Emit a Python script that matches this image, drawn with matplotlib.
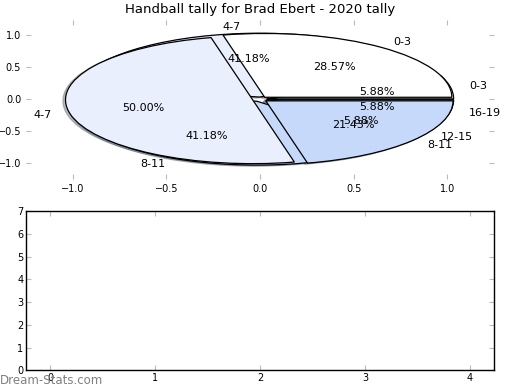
import matplotlib
matplotlib.use("Agg")
import matplotlib.pyplot as plt

title = "Handball tally for Brad Ebert - 2020 tally"

# first tally (drawn underneath)
labels_b = ["0-3", "4-7", "8-11", "12-15", "16-19"]
values_b = [1, 7, 7, 1, 1]

# second tally (drawn on top)
labels_a = ["0-3", "4-7", "8-11"]
values_a = [4, 7, 3]

pie_ticks = [-1.0, -0.5, 0.0, 0.5, 1.0]
bar_xticks = [0, 1, 2, 3, 4]
bar_yticks = [0, 1, 2, 3, 4, 5, 6, 7]

colors = ["#ffffff", "#e9effc", "#c6d9fa", "#9fbef2", "#7aa3e6"]

fig = plt.figure(figsize=(5.2, 3.9), dpi=100)
fig.subplots_adjust(left=0.05, right=0.95, bottom=0.05, top=0.95, hspace=0.2)
ax1 = fig.add_subplot(2, 1, 1)
ax2 = fig.add_subplot(2, 1, 2)

wp = dict(edgecolor="black", linewidth=0.9)
tp = dict(fontsize=8)
shadow = dict(ox=-0.01, oy=-0.012, shade=0.5)
ax1.pie(values_b, labels=labels_b, colors=colors[:len(values_b)],
        explode=[0.035] * len(values_b), autopct="%1.2f%%", shadow=shadow,
        wedgeprops=wp, textprops=tp, frame=True)
ax1.pie(values_a, labels=labels_a, colors=colors[:len(values_a)],
        explode=[0.04] * len(values_a), autopct="%1.2f%%", shadow=shadow,
        wedgeprops=wp, textprops=tp, frame=True)

ax1.set_aspect("auto")
ax1.set_xlim(-1.25, 1.25)
ax1.set_ylim(-1.25, 1.25)
ax1.set_xticks(pie_ticks)
ax1.set_yticks(pie_ticks)
for s in ax1.spines.values():
    s.set_visible(False)
ax1.tick_params(direction="in", length=3.5, color="#bbbbbb", labelsize=7,
                top=True, right=True)
ax1.set_title(title, fontsize=9.5, pad=5)

ax2.set_xlim(-0.23, 4.23)
ax2.set_ylim(0, 7)
ax2.set_xticks(bar_xticks)
ax2.set_yticks(bar_yticks)
ax2.tick_params(direction="in", length=3.5, color="#bbbbbb", labelsize=7,
                top=True, right=True, pad=2)
for s in ax2.spines.values():
    s.set_linewidth(1.0)
    s.set_color("black")

fig.text(0.0, 0.007, "Dream-Stats.com", fontsize=8.5, color="#808080",
         ha="left", va="bottom")

fig.savefig("out.png", dpi=100)
